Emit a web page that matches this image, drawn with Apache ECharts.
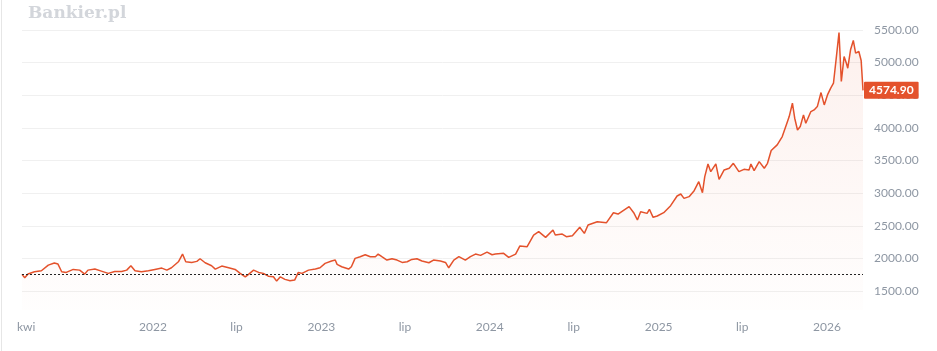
<!DOCTYPE html>
<html><head><meta charset="utf-8">
<script src="https://cdn.jsdelivr.net/npm/echarts@6/dist/echarts.min.js"></script>
<style>html,body{margin:0;padding:0;background:#fff}#c{width:937px;height:351px}</style>
</head><body><div id="c"></div>
<script>
const dates = [
'2021-03-23','2021-03-29','2021-04-05','2021-04-19','2021-05-04','2021-05-19','2021-06-01','2021-06-09','2021-06-17','2021-06-27','2021-07-12','2021-07-26','2021-08-06','2021-08-13','2021-08-28','2021-09-11','2021-09-26','2021-10-10','2021-10-25','2021-11-05','2021-11-14','2021-11-23','2021-12-07','2021-12-22',
'2022-01-05','2022-01-20','2022-01-31','2022-02-10','2022-02-25','2022-03-06','2022-03-13','2022-03-26','2022-04-06','2022-04-13','2022-04-24','2022-05-08','2022-05-16','2022-05-30','2022-06-14','2022-06-28','2022-07-09','2022-07-20','2022-07-27','2022-08-07','2022-08-18','2022-08-28','2022-09-08','2022-09-19','2022-09-26','2022-10-04','2022-10-14','2022-10-25','2022-11-04','2022-11-12','2022-11-20','2022-12-04','2022-12-19','2022-12-29',
'2023-01-09','2023-01-23','2023-01-31','2023-02-04','2023-02-14','2023-03-01','2023-03-07','2023-03-15','2023-03-26','2023-04-06','2023-04-17','2023-04-28','2023-05-04','2023-05-12','2023-05-23','2023-06-03','2023-06-14','2023-06-25','2023-07-06','2023-07-16','2023-07-27','2023-08-07','2023-08-22','2023-09-01','2023-09-16','2023-09-27','2023-10-04','2023-10-15','2023-10-26','2023-11-09','2023-11-20','2023-12-01','2023-12-12','2023-12-26',
'2024-01-06','2024-01-13','2024-01-31','2024-02-11','2024-02-26','2024-03-06','2024-03-22','2024-04-05','2024-04-16','2024-05-01','2024-05-17','2024-05-22','2024-06-06','2024-06-15','2024-06-28','2024-07-14','2024-07-24','2024-08-01','2024-08-21','2024-09-10','2024-09-25','2024-10-05','2024-10-29','2024-11-08','2024-11-16','2024-11-23','2024-12-07','2024-12-12','2024-12-20','2024-12-29',
'2025-01-12','2025-01-27','2025-02-10','2025-02-18','2025-02-25','2025-03-08','2025-03-19','2025-03-29','2025-04-06','2025-04-11','2025-04-18','2025-04-24','2025-05-05','2025-05-12','2025-05-23','2025-06-03','2025-06-12','2025-06-24','2025-07-05','2025-07-16','2025-07-20','2025-07-27','2025-08-07','2025-08-18','2025-08-25','2025-09-02','2025-09-15','2025-09-26','2025-10-06','2025-10-11','2025-10-18','2025-10-23','2025-10-29','2025-11-04','2025-11-11','2025-11-16','2025-11-27','2025-12-04','2025-12-11','2025-12-19','2025-12-26',
'2026-01-02','2026-01-09','2026-01-15','2026-01-21','2026-01-27','2026-02-01','2026-02-07','2026-02-12','2026-02-15','2026-02-21','2026-02-27','2026-03-04','2026-03-11','2026-03-16','2026-03-20'
];
const values = [
1755,1702,1760,1795,1810,1897,1928,1913,1795,1785,1831,1820,1760,1820,1836,1805,1770,1800,1800,1820,1887,1810,1795,1810,
1831,1851,1820,1857,1948,2066,1948,1938,1954,1994,1933,1887,1836,1882,1857,1831,1770,1718,1755,1820,1785,1770,1728,1718,1652,1718,1678,1657,1667,1785,1770,1820,1836,1856,
1923,1959,1974,1908,1872,1836,1872,2000,2026,2056,2026,2026,2066,2026,1974,1994,1974,1938,1948,1984,1994,1959,1933,1974,1959,1938,1856,1974,2026,1974,2026,2066,2046,2097,
2056,2066,2077,2015,2066,2189,2179,2358,2409,2322,2435,2358,2373,2332,2348,2476,2383,2511,2562,2547,2700,2680,2793,2700,2588,2716,2690,2752,2629,2649,
2700,2808,2956,2987,2920,2946,3038,3176,3007,3253,3447,3329,3447,3212,3355,3381,3457,3329,3365,3355,3447,3345,3483,3381,3457,3652,3739,3866,4071,4173,4378,4148,3968,4020,4199,4071,4250,4275,4326,4541,4352,
4505,4608,4684,5068,5462,4710,5093,4991,4914,5196,5339,5145,5170,5032,4574.90
];
const yTicks = [1500,2000,2500,3000,3500,4000,4500,5000,5500];
const xTicks = ['2021-04-01','2022-01-01','2022-07-01','2023-01-01','2023-07-01','2024-01-01','2024-07-01','2025-01-01','2025-07-01','2026-01-01'];
const monthLabels = {3:'kwi',6:'lip'};
const baseline = 1755;

function toTs(s){const p=s.split('-').map(Number);return new Date(p[0],p[1]-1,p[2]).getTime();}
const seriesData = dates.map((d,i)=>[toTs(d), values[i]]);
const lineColor = '#e4522c';
const labelFont = 'Lato, "Open Sans", sans-serif';

const chart = echarts.init(document.getElementById('c'), null, {renderer:'canvas'});
chart.setOption({
  animation:false,
  backgroundColor:'#fff',
  grid:{left:22,right:74,top:20,bottom:41,containLabel:false},
  graphic:[
    {type:'rect',left:1,top:0,shape:{width:1,height:351},style:{fill:'#e6e6e6'},silent:true},
    {type:'text',left:28,top:5,style:{text:'Bankier.pl',font:'bold 17px "DejaVu Serif", serif',fill:'#d3d6db'},silent:true}
  ],
  xAxis:{
    type:'value',
    min:seriesData[0][0], max:seriesData[seriesData.length-1][0],
    axisLine:{show:false}, axisTick:{show:false, customValues:xTicks.map(toTs)}, splitLine:{show:false},
    axisLabel:{
      customValues:xTicks.map(toTs),
      color:'#8e97a3', fontSize:12, fontFamily:labelFont, margin:11,
      formatter:function(v){const d=new Date(v);const m=d.getMonth();return m===0?String(d.getFullYear()):(monthLabels[m]||'');}
    }
  },
  yAxis:{
    type:'value', position:'right', min:1209, max:5653,
    axisLine:{show:false},
    axisTick:{show:false, customValues:yTicks},
    axisLabel:{customValues:yTicks, color:'#8e97a3', fontSize:12, fontFamily:labelFont, margin:11, formatter:v=>v.toFixed(2)},
    splitLine:{show:true, lineStyle:{color:'#f0f0f0', width:1}}
  },
  series:[{
    type:'line', data:seriesData, showSymbol:false, symbol:'none',
    lineStyle:{color:lineColor, width:1.5},
    itemStyle:{color:lineColor},
    areaStyle:{origin:'start', color:new echarts.graphic.LinearGradient(0,0,0,1,[
      {offset:0,color:'rgba(228,82,44,0.12)'},{offset:1,color:'rgba(228,82,44,0.01)'}])},
    endLabel:{show:true, formatter:p=>p.value[1].toFixed(2), color:'#fff', backgroundColor:lineColor,
      fontWeight:'bold', fontSize:12, fontFamily:labelFont, padding:[3,5,2,5], distance:1, borderRadius:1},
    markLine:{silent:true, symbol:'none', label:{show:false},
      lineStyle:{color:'#222', type:[2,2], width:1},
      data:[{yAxis:baseline}]}
  }]
});
</script>
</body></html>
